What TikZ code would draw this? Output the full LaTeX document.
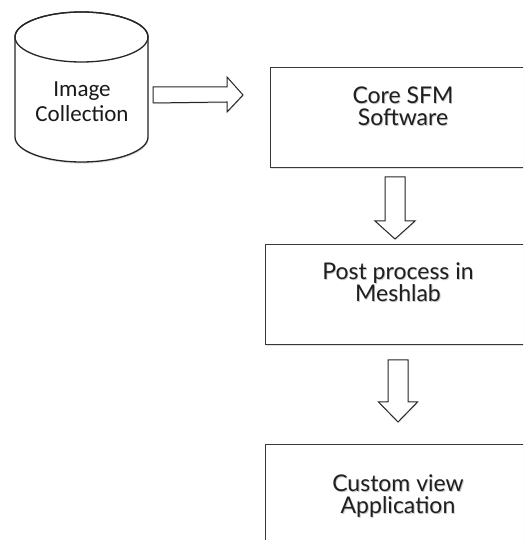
\documentclass[tikz,border=0pt]{standalone}
\usepackage{fontspec}
\setmainfont{Lato}
\newfontfamily\calfont{Carlito}
\usetikzlibrary{calc,shadows}
\begin{document}
\begin{tikzpicture}[x=1pt,y=1pt,
  box/.style={draw=black!78, line width=1.3pt, fill=white, minimum width=264pt,
    inner sep=0pt, anchor=north west,
    drop shadow={shadow xshift=0.6pt, shadow yshift=-1.6pt, opacity=0.25}},
  blk/.style={draw=black!85, line width=1pt, fill=white, line join=miter,
    drop shadow={shadow xshift=0.6pt, shadow yshift=-1.2pt, opacity=0.2}},
  lbl/.style={font=\fontsize{23}{22}\selectfont, align=center, text=black!88, inner sep=0pt},
  lblsh/.style={lbl, text=black!22},
]
\useasboundingbox (0,0) rectangle (523,540);
\fill[white] (0,0) rectangle (523,540);
\clip (0,0) rectangle (523,540);

% cylinder (Image Collection)
\coordinate (cylT) at (81.5,503);
\coordinate (cylB) at (81.5,403);
\filldraw[draw=black!85, line width=1.3pt, fill=white,
  drop shadow={shadow xshift=0.6pt, shadow yshift=-1.6pt, opacity=0.25}]
  ($(cylT)+(-66.5,0)$) -- ($(cylB)+(-66.5,0)$) arc (180:360:66.5 and 25)
  -- ($(cylT)+(66.5,0)$) arc (0:180:66.5 and 25) -- cycle;
\draw[black!85, line width=1.3pt] (cylT) ellipse (66.5 and 25);
\node[font=\calfont\fontsize{23}{25}\selectfont, align=center, text=black!90] (cyl)
  at (82,438) {Image\\Collection};

% boxes
\node[box, minimum height=100pt] (core) at (270,473) {};
\node[box, minimum height=100pt] (post) at (265,296) {};
\node[box, minimum height=110pt] (app) at (265,96) {};

% box texts (with soft text shadow)
\node[lblsh] at (403.8,432.8) {Core SFM\\Software};
\node[lbl] (coretxt) at (403,434) {Core SFM\\Software};
\node[lblsh] at (398.8,256.8) {Post process in\\Meshlab};
\node[lbl] (posttxt) at (398,258) {Post process in\\Meshlab};
\node[lblsh] at (398.8,42.8) {Custom view\\Application};
\node[lbl] (apptxt) at (398,44) {Custom view\\Application};

% block arrows
\coordinate (a1s) at (153,445);
\draw[blk] ($(a1s)+(0,8)$) -- ++(74,0) -- ++(0,10) -- ($(a1s)+(90,0)$)
  -- ($(a1s)+(74,-17)$) -- ++(0,10) -- ($(a1s)+(0,-8)$) -- cycle;
\coordinate (a2s) at (395,363);
\draw[blk] ($(a2s)+(-10,0)$) -- ++(0,-44) -- ++(-10,0) -- ($(a2s)+(0,-62)$)
  -- ($(a2s)+(20,-44)$) -- ++(-10,0) -- ($(a2s)+(10,0)$) -- cycle;
\coordinate (a3s) at (398,180);
\draw[blk] ($(a3s)+(-10,0)$) -- ++(0,-42) -- ++(-9.5,0) -- ($(a3s)+(0,-62)$)
  -- ($(a3s)+(19.5,-42)$) -- ++(-9.5,0) -- ($(a3s)+(10,0)$) -- cycle;
\end{tikzpicture}
\end{document}
